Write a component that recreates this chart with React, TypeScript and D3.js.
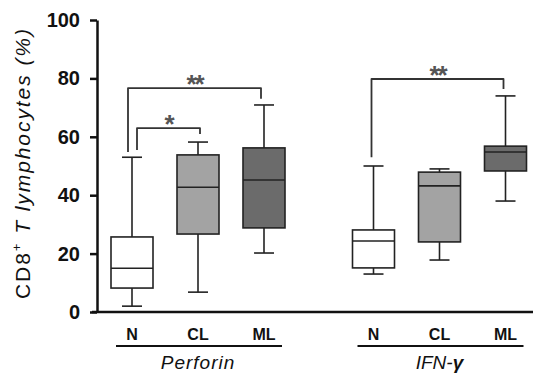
import * as d3 from 'd3'

// groups and categories
const groups = ['Perforin', 'IFN-γ']
const categories = ['N', 'CL', 'ML']

// one entry per box, order: Perforin N, CL, ML, IFN-γ N, CL, ML
const boxGroup = ['Perforin', 'Perforin', 'Perforin', 'IFN-γ', 'IFN-γ', 'IFN-γ']
const boxCategory = ['N', 'CL', 'ML', 'N', 'CL', 'ML']
const boxMin = [2, 6.8, 20.2, 13, 17.8, 38]
const boxQ1 = [8.2, 26.7, 28.8, 15.1, 24, 48.3]
const boxMedian = [15, 42.7, 45.2, 24.3, 43.2, 54.8]
const boxQ3 = [25.7, 53.8, 56.2, 28.1, 47.9, 56.8]
const boxMax = [53, 58.2, 70.9, 50, 49, 74]

// significance brackets
const sigGroup = ['Perforin', 'Perforin', 'IFN-γ']
const sigFrom = ['N', 'N', 'N']
const sigTo = ['ML', 'CL', 'ML']
const sigLevel = [76.7, 63, 79.8]
const sigLeftEnd = [54.8, 55.5, 53]
const sigRightEnd = [73, 61, 76.4]
const sigLabel = ['**', '*', '**']

const yTicks = [0, 20, 40, 60, 80, 100]

const fills: Record<string, string> = { N: '#ffffff', CL: '#a3a3a3', ML: '#6b6b6b' }
const font = "'Liberation Sans', Arial, sans-serif"

export default function App() {
  const width = 535
  const height = 375
  const axisX = 97
  const y = d3.scaleLinear().domain([0, 100]).range([312, 20])
  const groupX = d3.scalePoint<string>().domain(groups).range([198, 439.5])
  const catX = d3.scalePoint<string>().domain(categories).range([-66, 66])
  const cx = (g: string, c: string) => (groupX(g) as number) + (catX(c) as number)
  const boxW = 42
  const capW = 20
  const legOffsets = [[-4, -3], [5, 2], [-2, -2]]

  const yAxisRef = (node: SVGGElement | null) => {
    if (!node) return
    const g = d3.select(node)
    g.selectAll('*').remove()
    g.call(
      d3
        .axisLeft(y)
        .tickValues(yTicks)
        .tickSize(7)
        .tickSizeOuter(0)
        .tickPadding(10)
        .tickFormat(d3.format('d'))
    )
    g.select('.domain').attr('stroke-width', 2.5).attr('stroke', '#111')
    g.selectAll('.tick line').attr('stroke-width', 2.5).attr('stroke', '#111')
    g.selectAll('.tick text')
      .attr('font-family', font)
      .attr('font-size', 20)
      .attr('font-weight', 'bold')
      .attr('fill', '#111')
  }

  return (
    <svg
      width={width}
      height={height}
      style={{ position: 'absolute', left: 0, top: 0, background: '#fff' }}
      fontFamily={font}
    >
      {/* boxes */}
      {boxMin.map((_, i) => {
        const x = cx(boxGroup[i], boxCategory[i])
        return (
          <g key={i} stroke="#222" strokeWidth={1.6}>
            <line x1={x} x2={x} y1={y(boxMax[i])} y2={y(boxQ3[i])} />
            <line x1={x} x2={x} y1={y(boxQ1[i])} y2={y(boxMin[i])} />
            <line x1={x - capW / 2} x2={x + capW / 2} y1={y(boxMax[i])} y2={y(boxMax[i])} />
            <line x1={x - capW / 2} x2={x + capW / 2} y1={y(boxMin[i])} y2={y(boxMin[i])} />
            <rect
              x={x - boxW / 2}
              y={y(boxQ3[i])}
              width={boxW}
              height={y(boxQ1[i]) - y(boxQ3[i])}
              fill={fills[boxCategory[i]]}
            />
            <line x1={x - boxW / 2} x2={x + boxW / 2} y1={y(boxMedian[i])} y2={y(boxMedian[i])} />
          </g>
        )
      })}

      {/* significance brackets */}
      {sigLabel.map((lab, i) => {
        const x1 = cx(sigGroup[i], sigFrom[i]) + legOffsets[i][0]
        const x2 = cx(sigGroup[i], sigTo[i]) + legOffsets[i][1]
        const yl = y(sigLevel[i])
        return (
          <g key={'s' + i}>
            <path
              d={`M${x1},${y(sigLeftEnd[i])}V${yl}H${x2}V${y(sigRightEnd[i])}`}
              fill="none"
              stroke="#333"
              strokeWidth={1.8}
              strokeLinejoin="round"
            />
            <text
              x={(x1 + x2) / 2}
              y={yl + 5}
              textAnchor="middle"
              fontSize={26}
              fontWeight="bold"
              fill="#555"
              letterSpacing={-2}
            >
              {lab}
            </text>
          </g>
        )
      })}

      {/* axes */}
      <g ref={yAxisRef} transform={`translate(${axisX},0)`} />
      <line x1={92} x2={533} y1={y(0)} y2={y(0)} stroke="#111" strokeWidth={2.5} />

      {/* category labels */}
      {boxCategory.map((c, i) => (
        <text
          key={'c' + i}
          x={cx(boxGroup[i], c)}
          y={340}
          textAnchor="middle"
          fontSize={16}
          fontWeight="bold"
          fill="#111"
        >
          {c}
        </text>
      ))}

      {/* group labels and underlines */}
      {groups.map((g) => {
        const gx = groupX(g) as number
        return (
          <g key={g}>
            <line x1={gx - 82} x2={gx + 84} y1={346} y2={346} stroke="#111" strokeWidth={2} />
            <text
              x={gx}
              y={369}
              textAnchor="middle"
              fontSize={19}
              fontStyle="italic"
              fill="#111"
              letterSpacing={g === 'Perforin' ? 1 : 0}
            >
              {g === 'IFN-γ' ? (
                <>
                  IFN-<tspan fontWeight="bold">γ</tspan>
                </>
              ) : (
                g
              )}
            </text>
          </g>
        )
      })}

      {/* y label */}
      <text
        transform="translate(30,164) rotate(-90)"
        textAnchor="middle"
        fontSize={21}
        fill="#111"
        textLength={270}
        lengthAdjust="spacing"
      >
        CD8
        <tspan fontSize={13} dy={-9}>+</tspan>
        <tspan dy={9} fontStyle="italic"> T lymphocytes (%)</tspan>
      </text>
    </svg>
  )
}
